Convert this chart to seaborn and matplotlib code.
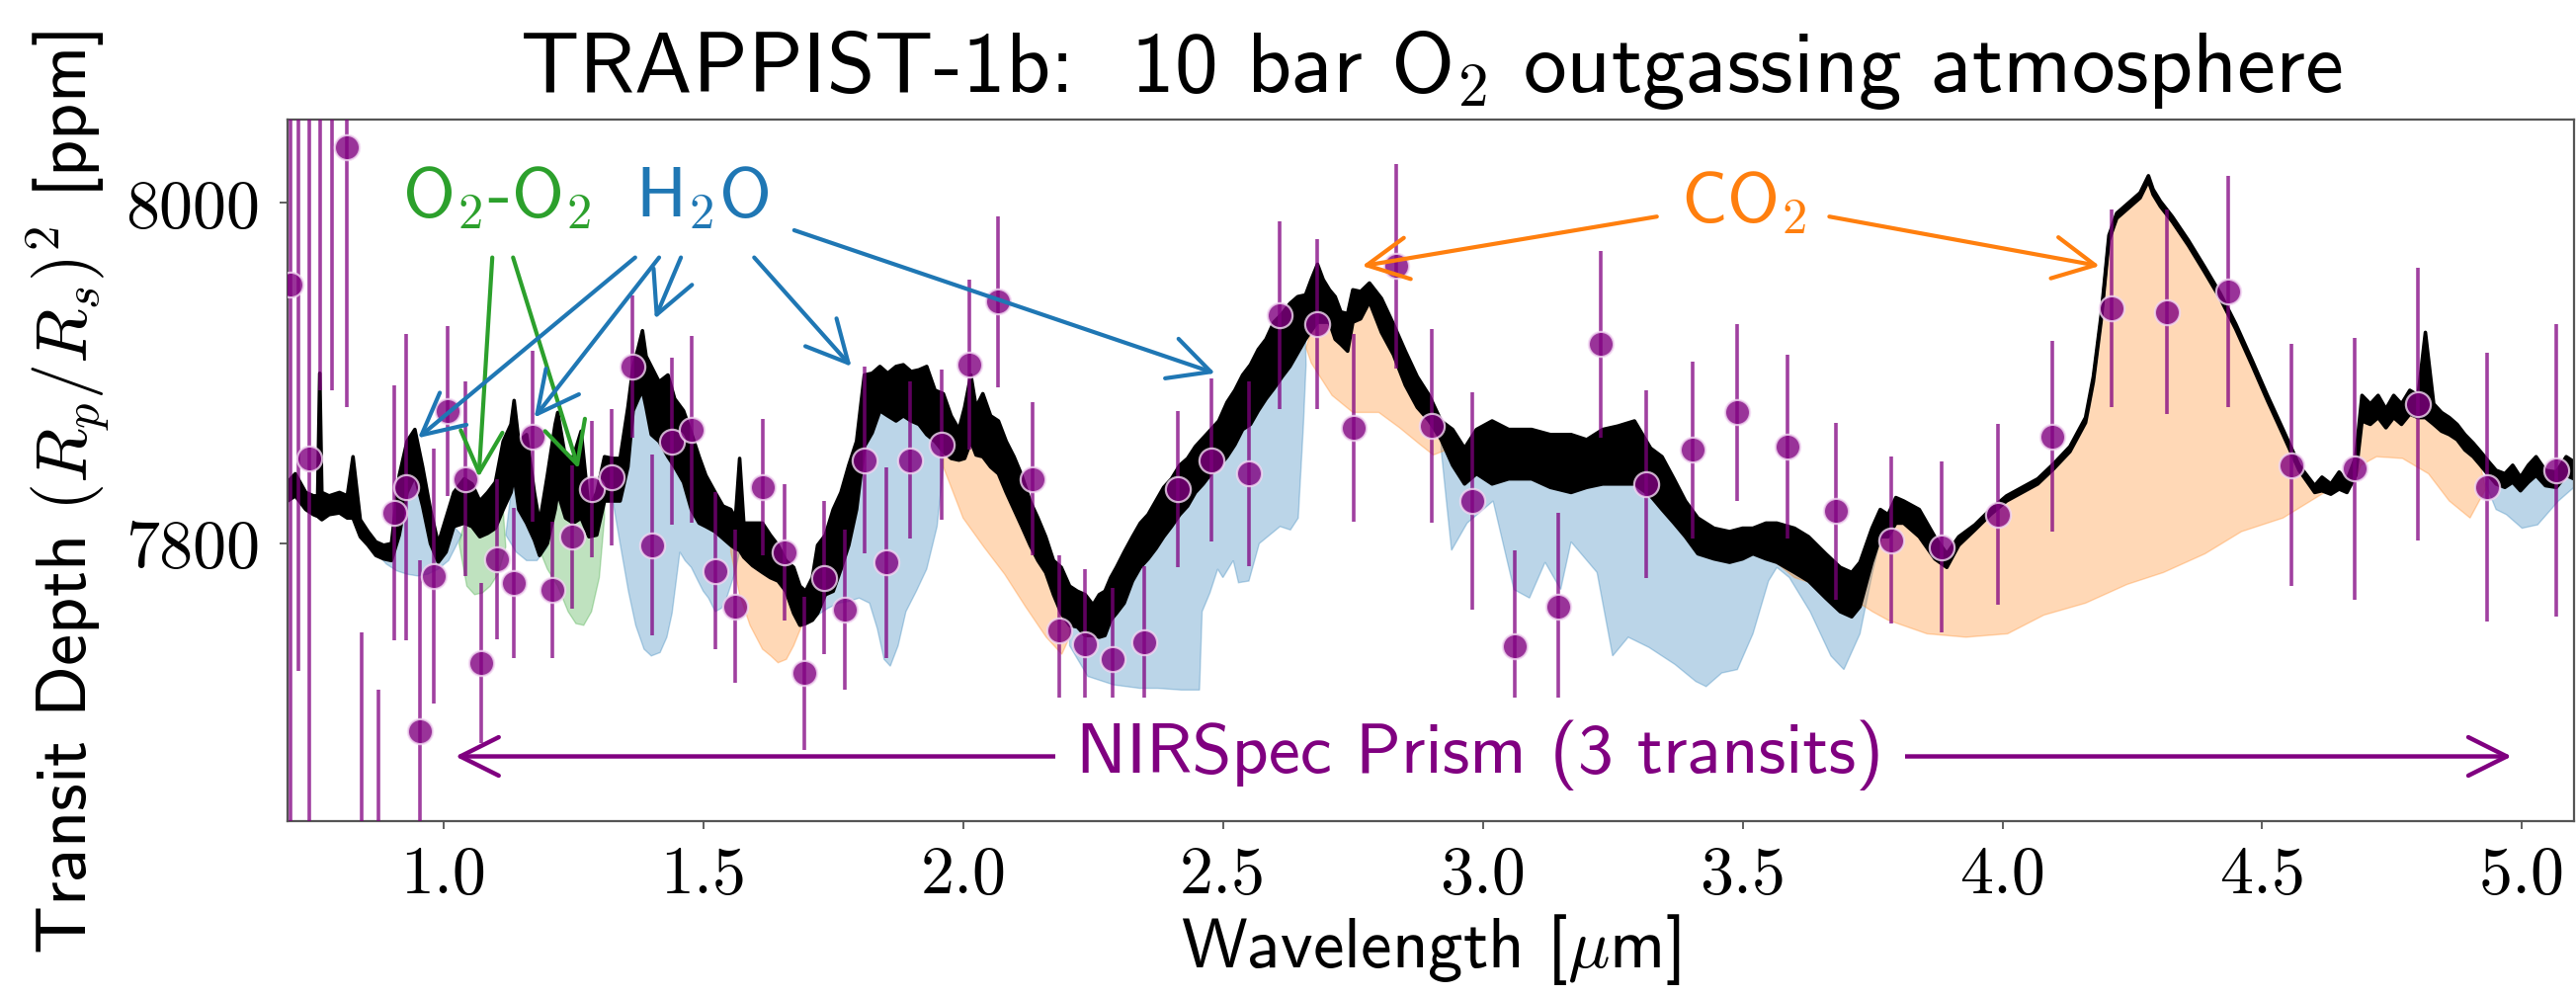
import numpy as np
import pandas as pd
import matplotlib
matplotlib.use("Agg")
import matplotlib.pyplot as plt
import seaborn as sns

# ---------------- data ----------------
model_wl = [0.700, 0.715, 0.735, 0.750, 0.758, 0.762, 0.766, 0.780, 0.800, 0.815, 0.826, 0.840, 0.855, 0.870,
            0.885, 0.900, 0.915, 0.930, 0.945, 0.960, 0.975, 0.990, 1.005, 1.020, 1.040, 1.055, 1.070, 1.085,
            1.100, 1.115, 1.130, 1.136, 1.145, 1.160, 1.175, 1.185, 1.200, 1.215, 1.220, 1.235, 1.250, 1.265,
            1.280, 1.295, 1.310, 1.325, 1.340, 1.355, 1.365, 1.375, 1.383, 1.390, 1.400, 1.415, 1.432, 1.445,
            1.462, 1.477, 1.492, 1.505, 1.523, 1.538, 1.553, 1.562, 1.570, 1.578, 1.595, 1.614, 1.629, 1.644,
            1.659, 1.674, 1.686, 1.697, 1.710, 1.720, 1.735, 1.750, 1.765, 1.780, 1.795, 1.810, 1.825, 1.840,
            1.855, 1.871, 1.885, 1.900, 1.915, 1.930, 1.946, 1.962, 1.977, 1.992, 2.003, 2.015, 2.025, 2.038,
            2.053, 2.068, 2.083, 2.098, 2.113, 2.129, 2.144, 2.159, 2.174, 2.189, 2.205, 2.220, 2.235, 2.250,
            2.262, 2.273, 2.284, 2.295, 2.310, 2.326, 2.341, 2.356, 2.371, 2.386, 2.401, 2.417, 2.432, 2.447,
            2.462, 2.477, 2.492, 2.508, 2.523, 2.538, 2.553, 2.568, 2.583, 2.598, 2.614, 2.629, 2.644, 2.659,
            2.670, 2.682, 2.693, 2.705, 2.716, 2.727, 2.740, 2.750, 2.765, 2.782, 2.805, 2.828, 2.851, 2.874,
            2.897, 2.920, 2.942, 2.965, 2.988, 3.018, 3.050, 3.094, 3.130, 3.170, 3.200, 3.231, 3.260, 3.292,
            3.323, 3.345, 3.368, 3.390, 3.414, 3.445, 3.475, 3.500, 3.520, 3.545, 3.566, 3.600, 3.627, 3.660,
            3.688, 3.710, 3.726, 3.749, 3.765, 3.780, 3.795, 3.810, 3.840, 3.870, 3.893, 3.916, 3.947, 3.977,
            4.008, 4.038, 4.068, 4.099, 4.130, 4.160, 4.175, 4.190, 4.205, 4.220, 4.235, 4.250, 4.265, 4.281,
            4.290, 4.304, 4.327, 4.358, 4.388, 4.419, 4.449, 4.480, 4.510, 4.540, 4.571, 4.601, 4.615, 4.632,
            4.648, 4.663, 4.680, 4.692, 4.708, 4.723, 4.738, 4.753, 4.768, 4.784, 4.800, 4.814, 4.830, 4.845,
            4.860, 4.875, 4.890, 4.906, 4.920, 4.936, 4.950, 4.967, 4.982, 4.997, 5.012, 5.027, 5.045, 5.066,
            5.085, 5.100]
model_hi = [7836, 7841, 7830, 7828, 7828, 7900, 7830, 7828, 7830, 7828, 7851, 7814, 7807, 7801,
            7799, 7800, 7840, 7860, 7867, 7845, 7820, 7800, 7815, 7830, 7838, 7835, 7825, 7830,
            7836, 7860, 7870, 7884, 7860, 7864, 7830, 7812, 7840, 7870, 7877, 7850, 7851, 7866,
            7820, 7830, 7851, 7850, 7850, 7880, 7904, 7915, 7925, 7910, 7904, 7895, 7899, 7885,
            7878, 7865, 7851, 7840, 7830, 7822, 7820, 7815, 7850, 7812, 7812, 7812, 7805, 7799,
            7790, 7786, 7775, 7772, 7780, 7799, 7805, 7820, 7830, 7846, 7860, 7899, 7900, 7904,
            7900, 7904, 7905, 7901, 7902, 7904, 7890, 7888, 7875, 7867, 7880, 7899, 7880, 7888,
            7875, 7872, 7860, 7851, 7840, 7825, 7815, 7804, 7790, 7786, 7775, 7772, 7770, 7764,
            7770, 7772, 7780, 7786, 7795, 7804, 7812, 7817, 7825, 7833, 7838, 7846, 7850, 7857,
            7862, 7867, 7872, 7883, 7890, 7899, 7905, 7914, 7920, 7930, 7935, 7941, 7945, 7946,
            7955, 7964, 7955, 7949, 7945, 7936, 7935, 7949, 7948, 7953, 7944, 7929, 7913, 7898,
            7887, 7872, 7867, 7856, 7867, 7872, 7867, 7867, 7864, 7864, 7861, 7867, 7869, 7872,
            7856, 7851, 7838, 7825, 7815, 7809, 7807, 7809, 7809, 7812, 7812, 7809, 7804, 7794,
            7786, 7783, 7789, 7809, 7820, 7817, 7827, 7825, 7820, 7804, 7794, 7804, 7811, 7820,
            7828, 7833, 7838, 7847, 7857, 7874, 7898, 7934, 7981, 7994, 7998, 8002, 8006, 8016,
            8008, 8001, 7992, 7978, 7963, 7947, 7929, 7908, 7887, 7867, 7846, 7834, 7839, 7835,
            7842, 7837, 7851, 7887, 7882, 7887, 7879, 7887, 7882, 7890, 7887, 7924, 7882, 7877,
            7874, 7870, 7864, 7859, 7854, 7848, 7843, 7841, 7846, 7839, 7846, 7851, 7843, 7842,
            7851, 7848]
model_lo = [7825, 7828, 7820, 7817, 7816, 7815, 7814, 7817, 7818, 7815, 7815, 7804, 7799, 7793,
            7791, 7790, 7805, 7830, 7840, 7822, 7800, 7789, 7795, 7810, 7812, 7810, 7804, 7806,
            7809, 7820, 7830, 7840, 7820, 7812, 7802, 7793, 7800, 7820, 7830, 7815, 7812, 7815,
            7804, 7805, 7825, 7825, 7825, 7845, 7878, 7885, 7890, 7880, 7864, 7860, 7851, 7845,
            7836, 7820, 7812, 7810, 7807, 7803, 7799, 7797, 7796, 7792, 7787, 7783, 7780, 7778,
            7772, 7759, 7752, 7753, 7755, 7759, 7770, 7772, 7785, 7799, 7820, 7857, 7865, 7878,
            7875, 7872, 7875, 7872, 7870, 7864, 7860, 7854, 7850, 7849, 7850, 7860, 7852, 7851,
            7845, 7841, 7830, 7820, 7810, 7799, 7790, 7783, 7770, 7759, 7752, 7751, 7746, 7746,
            7745, 7746, 7755, 7759, 7765, 7778, 7786, 7791, 7797, 7804, 7810, 7817, 7822, 7830,
            7835, 7841, 7845, 7851, 7858, 7867, 7870, 7878, 7885, 7891, 7898, 7904, 7912, 7920,
            7925, 7930, 7930, 7930, 7920, 7917, 7913, 7930, 7932, 7942, 7924, 7911, 7893, 7880,
            7872, 7861, 7846, 7835, 7841, 7835, 7838, 7838, 7833, 7830, 7833, 7835, 7835, 7835,
            7828, 7820, 7812, 7804, 7794, 7791, 7789, 7791, 7794, 7791, 7789, 7783, 7778, 7768,
            7760, 7757, 7763, 7789, 7804, 7804, 7812, 7812, 7804, 7791, 7786, 7799, 7808, 7817,
            7825, 7830, 7835, 7844, 7854, 7871, 7895, 7931, 7978, 7991, 7995, 7999, 8003, 8013,
            8005, 7998, 7989, 7975, 7960, 7944, 7926, 7905, 7884, 7864, 7843, 7830, 7831, 7829,
            7832, 7830, 7840, 7872, 7870, 7874, 7868, 7874, 7870, 7876, 7874, 7874, 7870, 7866,
            7864, 7861, 7855, 7851, 7846, 7840, 7835, 7833, 7836, 7831, 7836, 7840, 7834, 7833,
            7840, 7838]

# lower edges of the shaded contributions (spectrum without that molecule)
h2o_bands = [
    ([0.870, 0.890, 0.910, 0.930, 0.950, 0.970, 0.990, 1.010, 1.035],
     [7795, 7788, 7784, 7782, 7781, 7782, 7785, 7790, 7805]),
    ([1.120, 1.140, 1.160, 1.180, 1.200],
     [7805, 7795, 7790, 7790, 7798]),
    ([1.310, 1.326, 1.340, 1.356, 1.370, 1.386, 1.400, 1.417, 1.430, 1.440, 1.455, 1.465, 1.477, 1.490,
      1.500, 1.510, 1.523, 1.535, 1.545, 1.560, 1.570],
     [7830, 7825, 7800, 7772, 7752, 7738, 7734, 7736, 7745, 7759, 7795, 7790, 7786, 7778,
      7772, 7768, 7760, 7762, 7768, 7782, 7795]),
    ([1.700, 1.720, 1.740, 1.760, 1.780, 1.800, 1.820, 1.835, 1.848, 1.860, 1.875, 1.890, 1.910, 1.930,
      1.950, 1.962],
     [7758, 7758, 7762, 7765, 7766, 7768, 7765, 7750, 7732, 7728, 7740, 7760, 7772, 7785, 7810, 7845]),
    ([2.205, 2.240, 2.290, 2.340, 2.375, 2.420, 2.455, 2.460, 2.475, 2.490, 2.500, 2.520, 2.530, 2.550,
      2.570, 2.590, 2.610, 2.630, 2.645, 2.655, 2.660],
     [7740, 7722, 7717, 7715, 7715, 7714, 7714, 7760, 7771, 7785, 7780, 7790, 7777, 7778,
      7800, 7805, 7810, 7808, 7815, 7870, 7905]),
    ([2.920, 2.930, 2.940, 2.970, 3.020, 3.060, 3.090, 3.120, 3.150, 3.170, 3.220, 3.250, 3.280, 3.320,
      3.370, 3.410, 3.430, 3.460, 3.490, 3.520, 3.550, 3.566, 3.590, 3.630, 3.670, 3.695, 3.726, 3.750,
      3.765],
     [7855, 7825, 7796, 7812, 7825, 7773, 7768, 7789, 7773, 7801, 7783, 7734, 7745, 7739,
      7729, 7719, 7716, 7724, 7726, 7747, 7778, 7786, 7780, 7760, 7734, 7726, 7747, 7783, 7802]),
    ([4.930, 4.950, 4.970, 5.000, 5.030, 5.070, 5.100],
     [7835, 7820, 7817, 7809, 7811, 7825, 7833]),
]
co2_bands = [
    ([1.553, 1.570, 1.590, 1.614, 1.630, 1.644, 1.660, 1.674, 1.690, 1.700],
     [7795, 7770, 7752, 7738, 7734, 7730, 7732, 7740, 7752, 7758]),
    ([1.962, 2.000, 2.040, 2.080, 2.120, 2.160, 2.190, 2.205],
     [7845, 7815, 7798, 7782, 7763, 7745, 7735, 7745]),
    ([2.660, 2.670, 2.710, 2.750, 2.800, 2.840, 2.880, 2.905, 2.930, 2.950],
     [7915, 7906, 7887, 7877, 7877, 7868, 7858, 7852, 7855, 7850]),
    ([3.560, 3.600, 3.650, 3.700, 3.750, 3.780, 3.855, 3.930, 4.010, 4.080, 4.160, 4.240, 4.310, 4.390,
      4.460, 4.540, 4.620, 4.680, 4.690, 4.720, 4.770, 4.820, 4.860, 4.900, 4.930],
     [7790, 7780, 7775, 7770, 7760, 7755, 7747, 7745, 7747, 7758, 7765, 7776, 7783, 7794,
      7807, 7815, 7830, 7838, 7846, 7851, 7850, 7841, 7825, 7815, 7832]),
]
o2o2_bands = [
    ([1.030, 1.045, 1.060, 1.075, 1.090, 1.105, 1.120],
     [7800, 7775, 7770, 7771, 7775, 7782, 7798]),
    ([1.180, 1.200, 1.220, 1.240, 1.255, 1.270, 1.285, 1.300, 1.310],
     [7800, 7785, 7775, 7760, 7753, 7752, 7760, 7780, 7815]),
]

# NIRSpec Prism data points
obs_wl = [0.705, 0.720, 0.742, 0.762, 0.785, 0.814, 0.842, 0.874, 0.906, 0.929, 0.955, 0.982, 1.008,
          1.042, 1.073, 1.103, 1.136, 1.171, 1.209, 1.247, 1.285, 1.323, 1.364, 1.402, 1.439, 1.477,
          1.523, 1.561, 1.614, 1.656, 1.695, 1.732, 1.773, 1.811, 1.853, 1.898, 1.959, 2.012, 2.068,
          2.133, 2.185, 2.235, 2.288, 2.348, 2.414, 2.477, 2.550, 2.609, 2.682, 2.752, 2.833, 2.901,
          2.980, 3.061, 3.145, 3.228, 3.315, 3.403, 3.490, 3.586, 3.680, 3.787, 3.883, 3.992, 4.096,
          4.210, 4.317, 4.434, 4.556, 4.677, 4.799, 4.932, 5.065]
obs_depth = [7952, 8150, 7850, 8150, 8140, 8033, 7560, 7580, 7818, 7833, 7690, 7781, 7878,
             7838, 7730, 7791, 7777, 7863, 7773, 7804, 7832, 7839, 7904, 7799, 7860, 7867,
             7784, 7763, 7833, 7795, 7724, 7780, 7761, 7849, 7789, 7849, 7858, 7905, 7942,
             7838, 7749, 7741, 7732, 7742, 7832, 7849, 7841, 7934, 7929, 7868, 7963, 7869,
             7825, 7740, 7763, 7917, 7835, 7855, 7877, 7857, 7819, 7802, 7798, 7817, 7863,
             7938, 7936, 7948, 7846, 7844, 7882, 7833, 7843]
obs_err = [420, 425, 400, 260, 250, 153, 188, 134, 75, 90, 100, 75, 50,
           57, 47, 47, 44, 50, 40, 42, 40, 40, 42, 53, 49, 55,
           46, 45, 40, 40, 45, 45, 47, 55, 56, 46, 44, 50, 50,
           45, 44, 44, 42, 45, 46, 48, 54, 55, 50, 55, 60, 57,
           64, 56, 55, 55, 55, 52, 52, 54, 52, 49, 50, 53, 56,
           58, 60, 68, 71, 77, 80, 79, 86]

xtick_vals = [1.0, 1.5, 2.0, 2.5, 3.0, 3.5, 4.0, 4.5, 5.0]
xtick_labels = ["1.0", "1.5", "2.0", "2.5", "3.0", "3.5", "4.0", "4.5", "5.0"]
ytick_vals = [7800, 8000]
ytick_labels = ["7800", "8000"]

# annotation anchors (wavelength, depth)
h2o_arrow_start = [(1.369, 7968), (1.415, 7968), (1.457, 7968), (1.598, 7968), (1.675, 7984)]
h2o_arrow_end = [(0.951, 7862), (1.175, 7874), (1.407, 7932), (1.785, 7904), (2.485, 7900)]
o2_arrow_start = [(1.094, 7968), (1.134, 7968)]
o2_arrow_end = [(1.068, 7839), (1.260, 7844)]
co2_arrow_start = [(3.335, 7992), (3.667, 7992)]
co2_arrow_end = [(2.768, 7963), (4.187, 7963)]

# ---------------- styling ----------------
sns.set_theme(style="ticks")
plt.rcParams["font.family"] = ["cmss10", "DejaVu Sans"]
plt.rcParams["mathtext.fontset"] = "cm"
plt.rcParams["axes.unicode_minus"] = False
for key in ["text.color", "axes.labelcolor", "xtick.color", "ytick.color", "axes.titlecolor"]:
    plt.rcParams[key] = "black"

BLUE, ORANGE, GREEN, PURPLE = "#1f77b4", "#ff7f0e", "#2ca02c", "#800080"

W, H = 2607, 1008
fig = plt.figure(figsize=(W / 100, H / 100), dpi=100)
ax = fig.add_axes([291 / W, 1 - 831 / H, (2605 - 291) / W, (831 - 121) / H])

mw = np.array(model_wl)
mlo = np.array(model_lo)


def shade(bands, color):
    for wl, low in bands:
        wl = np.array(wl)
        low = np.array(low)
        sel = (mw >= wl[0]) & (mw <= wl[-1])
        xs = np.concatenate([[wl[0]], mw[sel], [wl[-1]], wl[::-1]])
        ys = np.concatenate([[low[0]], mlo[sel], [low[-1]], low[::-1]])
        ax.fill(xs, ys, facecolor=color, alpha=0.3, edgecolor=color, lw=1.0, zorder=1)


shade(h2o_bands, BLUE)
shade(co2_bands, ORANGE)
shade(o2o2_bands, GREEN)

ax.fill_between(model_wl, model_lo, model_hi, color="black", lw=0, zorder=2)
ax.plot(model_wl, model_hi, color="black", lw=2.6, zorder=2)
ax.plot(model_wl, model_lo, color="black", lw=2.6, zorder=2)

df = pd.DataFrame({"wl": obs_wl, "depth": obs_depth, "err": obs_err})
ax.errorbar(df["wl"], df["depth"], yerr=df["err"], fmt="none", ecolor=PURPLE,
            elinewidth=2.6, alpha=0.75, zorder=3)
sns.scatterplot(data=df, x="wl", y="depth", ax=ax, s=330, color=PURPLE, alpha=0.8,
                edgecolor="#f3d9f3", linewidth=1.6, zorder=4, legend=False)

ax.set_xlim(0.7, 5.1)
ax.set_ylim(7637, 8049)

# annotations
ann_fs = 52
arrow_kw = dict(arrowstyle="->,head_length=0.75,head_width=0.38", lw=3.0,
                shrinkA=0, shrinkB=0, mutation_scale=40)
ax.text(1.102, 7991.5, r"O$_2$-O$_2$", color=GREEN, fontsize=ann_fs, ha="center", va="baseline", zorder=6)
ax.text(1.497, 7991.5, r"H$_2$O", color=BLUE, fontsize=ann_fs, ha="center", va="baseline", zorder=6)
ax.text(3.502, 7989, r"CO$_2$", color=ORANGE, fontsize=ann_fs, ha="center", va="baseline", zorder=6)
for s, e in zip(o2_arrow_start, o2_arrow_end):
    ax.annotate("", xy=e, xytext=s, arrowprops=dict(color=GREEN, **arrow_kw), zorder=6)
for s, e in zip(h2o_arrow_start, h2o_arrow_end):
    ax.annotate("", xy=e, xytext=s, arrowprops=dict(color=BLUE, **arrow_kw), zorder=6)
for s, e in zip(co2_arrow_start, co2_arrow_end):
    ax.annotate("", xy=e, xytext=s, arrowprops=dict(color=ORANGE, **arrow_kw), zorder=6)

ax.annotate("", xy=(1.023, 7675), xytext=(4.98, 7675),
            arrowprops=dict(arrowstyle="<->,head_length=0.7,head_width=0.35", lw=3.2,
                            color=PURPLE, shrinkA=0, shrinkB=0, mutation_scale=40), zorder=6)
ax.text(2.995, 7676, "NIRSpec Prism (3 transits)", color=PURPLE, fontsize=ann_fs,
        ha="center", va="center", zorder=7,
        bbox=dict(boxstyle="square,pad=0.3", facecolor="white", edgecolor="none"))

# axes, ticks, labels
ax.set_xticks(xtick_vals)
ax.set_xticklabels(xtick_labels, fontfamily="cmr10", fontsize=49)
ax.set_yticks(ytick_vals)
ax.set_yticklabels(ytick_labels, fontfamily="cmr10", fontsize=49)
ax.tick_params(axis="both", direction="out", length=6, width=1.2, color="#444444", pad=12)
ax.tick_params(axis="y", pad=14)
for sp in ax.spines.values():
    sp.set_visible(True)
    sp.set_linewidth(1.6)
    sp.set_color("#555555")

ax.set_xlabel(r"Wavelength [$\mu$m]", fontsize=51)
ax.xaxis.set_label_coords(0.5, -0.13)
ax.set_ylabel(r"Transit Depth $(R_p/R_s)^2$ [ppm]", fontsize=52)
ax.yaxis.set_label_coords(-0.077, 0.468)
ax.set_title(r"TRAPPIST-1b:  10 bar O$_2$ outgassing atmosphere", fontsize=63, pad=20)

fig.savefig("out.png", dpi=100)
